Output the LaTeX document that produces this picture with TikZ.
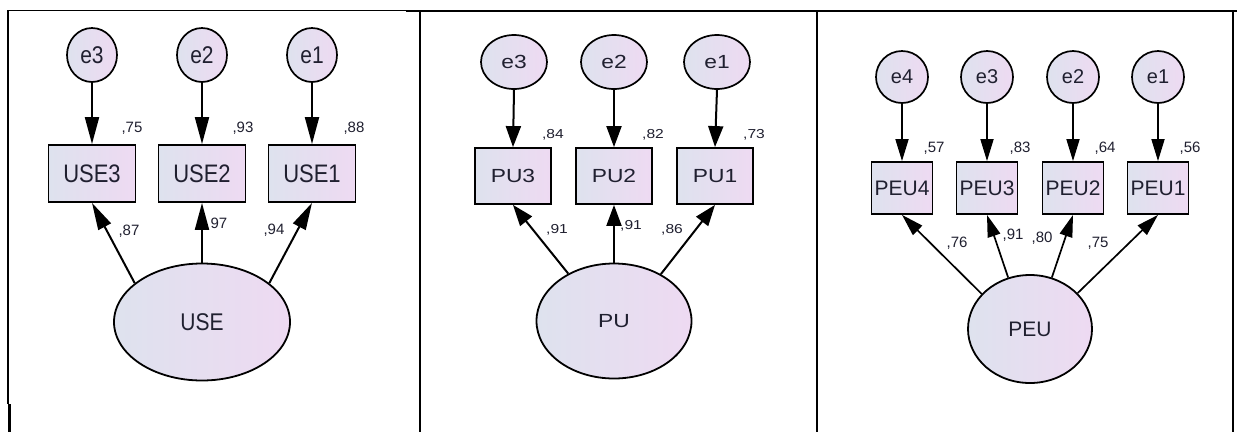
\documentclass[tikz,border=0pt]{standalone}
\usepackage{fontspec}
\usepackage{graphicx}
\setmainfont{Liberation Sans}
\usetikzlibrary{shapes.geometric,arrows.meta}
\definecolor{lblue}{HTML}{DEE2EE}
\definecolor{lpink}{HTML}{EEDAF2}
\definecolor{txt}{HTML}{202030}
\newcommand{\fs}[1]{\fontsize{#1}{#1}\selectfont}
\newcommand{\vst}[1]{\scalebox{1}[1.15]{#1}}
\newcommand{\hst}[1]{\scalebox{1.2}[1]{#1}}
\tikzset{
  frameline/.style={line width=1.8pt, black},
  shadedfill/.style={draw=black, left color=lblue, right color=lpink, text=txt, inner sep=0pt},
  latent/.style={shadedfill, ellipse, line width=1.8pt},
  errv/.style={shadedfill, ellipse, line width=1.7pt},
  obs/.style={shadedfill, rectangle, line width=1.8pt},
  numlab/.style={text=txt, inner sep=0pt},
  arrA/.style={line width=2pt, -{Triangle[length=27pt,width=14pt]}},
  arrB/.style={line width=2pt, -{Triangle[length=21pt,width=15pt]}},
  arrC/.style={line width=1.7pt, -{Triangle[length=22pt,width=13pt]}},
}
\begin{document}
\begin{tikzpicture}[x=1pt,y=-1pt]
\useasboundingbox (0,0) rectangle (1237,432);
\fill[white] (0,0) rectangle (1237,432);
% ---------- table frame ----------
\coordinate (t0) at (8,10.5);
\coordinate (t1) at (406,10.5);
\coordinate (t2) at (406,11);
\coordinate (t3) at (1237,11);
\draw[line width=1.1pt] (t0) -- (t1);
\draw[frameline] (t2) -- (t3);
\coordinate (l0) at (8,10);
\coordinate (l1) at (8,404);
\coordinate (l2) at (9.5,404);
\coordinate (l3) at (9.5,432);
\draw[line width=1.1pt] (l0) -- (l1);
\draw[line width=2.4pt] (l2) -- (l3);
\coordinate (d1a) at (420,11); \coordinate (d1b) at (420,432);
\coordinate (d2a) at (817,11); \coordinate (d2b) at (817,432);
\coordinate (d3a) at (1233,11); \coordinate (d3b) at (1233,432);
\draw[frameline] (d1a) -- (d1b);
\draw[frameline] (d2a) -- (d2b);
\draw[frameline] (d3a) -- (d3b);

% ---------- panel 1: USE ----------
\node[errv, minimum width=50pt, minimum height=54pt] (ae3) at (92,55) {\fs{21}\vst{e3}};
\node[errv, minimum width=50pt, minimum height=54pt] (ae2) at (202,55) {\fs{21}\vst{e2}};
\node[errv, minimum width=50pt, minimum height=54pt] (ae1) at (312,55) {\fs{21}\vst{e1}};
\node[obs, minimum width=87pt, minimum height=57pt] (use3) at (92,173.5) {\fs{22}\vst{USE3}};
\node[obs, minimum width=87pt, minimum height=57pt] (use2) at (202,173.5) {\fs{22}\vst{USE2}};
\node[obs, minimum width=87pt, minimum height=57pt] (use1) at (312,173.5) {\fs{22}\vst{USE1}};
\node[latent, minimum width=176pt, minimum height=117pt] (use) at (202,322) {\fs{21}\vst{USE}};
\draw[arrA] (ae3.south) -- (use3.north);
\draw[arrA] (ae2.south) -- (use2.north);
\draw[arrA] (ae1.south) -- (use1.north);
\draw[arrA] (use.150) -- (use3.south);
\draw[arrA] (use.90) -- (use2.south);
\draw[arrA] (use.30) -- (use1.south);
\node[numlab] (n75) at (132,128) {\fs{15},75};
\node[numlab] (n93) at (243,128) {\fs{15},93};
\node[numlab] (n88) at (354,128) {\fs{15},88};
\node[numlab] (n87) at (129,231) {\fs{15},87};
\node[numlab] (n97) at (219,223) {\fs{15}97};
\node[numlab] (n94) at (274,230) {\fs{15},94};

% ---------- panel 2: PU ----------
\node[errv, minimum width=66pt, minimum height=54pt] (be3) at (514,62) {\fs{19}\hst{e3}};
\node[errv, minimum width=66pt, minimum height=54pt] (be2) at (614,62) {\fs{19}\hst{e2}};
\node[errv, minimum width=66pt, minimum height=54pt] (be1) at (717,62) {\fs{19}\hst{e1}};
\node[obs, minimum width=76pt, minimum height=56pt] (pu3) at (513,176) {\fs{19}\hst{PU3}};
\node[obs, minimum width=76pt, minimum height=56pt] (pu2) at (614,176) {\fs{19}\hst{PU2}};
\node[obs, minimum width=76pt, minimum height=56pt] (pu1) at (715,176) {\fs{19}\hst{PU1}};
\node[latent, minimum width=155pt, minimum height=115pt] (pu) at (614,321) {\fs{19}\hst{PU}};
\draw[arrB] (be3.south) -- (pu3.north);
\draw[arrB] (be2.south) -- (pu2.north);
\draw[arrB] (be1.south) -- (pu1.north);
\draw[arrB] (pu.134) -- (pu3.south);
\draw[arrB] (pu.90) -- (pu2.south);
\draw[arrB] (pu.45) -- (pu1.south);
\node[numlab] (n84) at (553,135) {\fs{13}\hst{,84}};
\node[numlab] (n82) at (653,135) {\fs{13}\hst{,82}};
\node[numlab] (n73) at (754,135) {\fs{13}\hst{,73}};
\node[numlab] (n91a) at (557,230) {\fs{13}\hst{,91}};
\node[numlab] (n91b) at (631,226) {\fs{13}\hst{,91}};
\node[numlab] (n86) at (672,230) {\fs{13}\hst{,86}};

% ---------- panel 3: PEU ----------
\node[errv, minimum width=52pt, minimum height=52pt] (ce4) at (902,77) {\fs{20}e4};
\node[errv, minimum width=52pt, minimum height=52pt] (ce3) at (987,77) {\fs{20}e3};
\node[errv, minimum width=52pt, minimum height=52pt] (ce2) at (1073,77) {\fs{20}e2};
\node[errv, minimum width=52pt, minimum height=52pt] (ce1) at (1158,77) {\fs{20}e1};
\node[obs, minimum width=61pt, minimum height=52pt] (peu4) at (902,188) {\fs{21}PEU4};
\node[obs, minimum width=61pt, minimum height=52pt] (peu3) at (987,188) {\fs{21}PEU3};
\node[obs, minimum width=61pt, minimum height=52pt] (peu2) at (1073,188) {\fs{21}PEU2};
\node[obs, minimum width=61pt, minimum height=52pt] (peu1) at (1158,188) {\fs{21}PEU1};
\node[latent, minimum width=124pt, minimum height=108pt] (peu) at (1030,329) {\fs{21}PEU};
\draw[arrC] (ce4.south) -- (peu4.north);
\draw[arrC] (ce3.south) -- (peu3.north);
\draw[arrC] (ce2.south) -- (peu2.north);
\draw[arrC] (ce1.south) -- (peu1.north);
\draw[arrC] (peu.144) -- (peu4.south);
\draw[arrC] (peu.113) -- (peu3.south);
\draw[arrC] (peu.67) -- (peu2.south);
\draw[arrC] (peu.37) -- (peu1.south);
\node[numlab] (n57) at (934,148) {\fs{15},57};
\node[numlab] (n83) at (1020,148) {\fs{15},83};
\node[numlab] (n64) at (1105,148) {\fs{15},64};
\node[numlab] (n56) at (1190,148) {\fs{15},56};
\node[numlab] (n76) at (957,243) {\fs{15},76};
\node[numlab] (n91c) at (1013,235) {\fs{15},91};
\node[numlab] (n80) at (1042,238) {\fs{15},80};
\node[numlab] (n75b) at (1098,243) {\fs{15},75};
\end{tikzpicture}
\end{document}
